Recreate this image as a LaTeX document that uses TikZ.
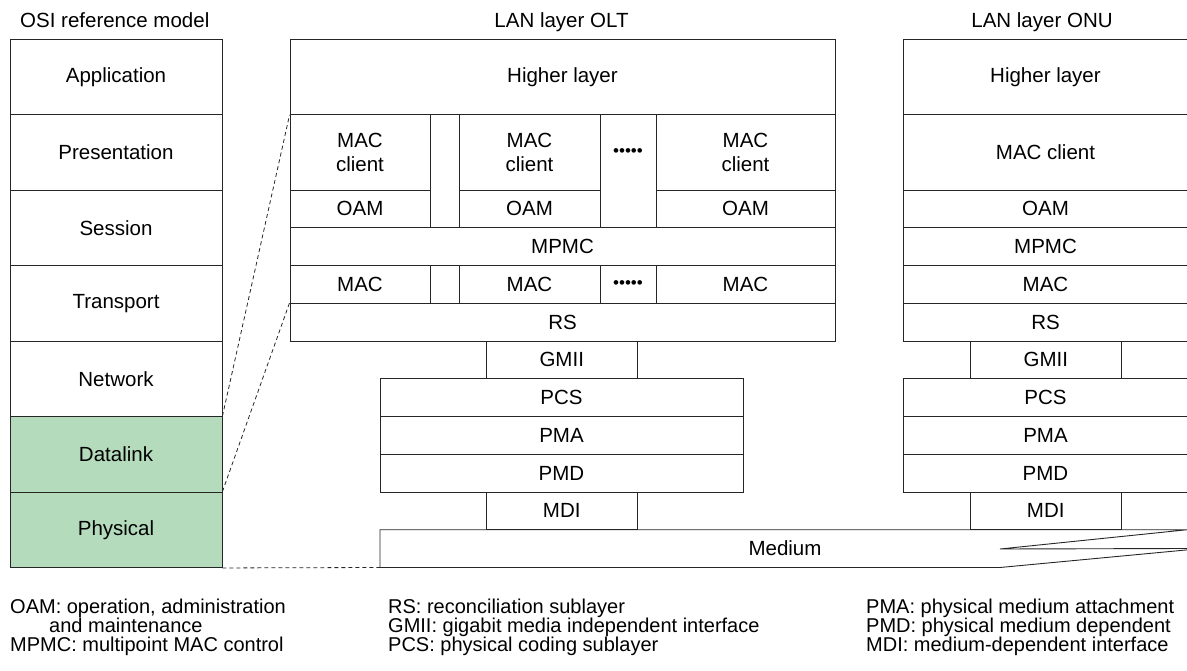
\documentclass[tikz,border=0pt]{standalone}
\usepackage{fontspec}
\setmainfont{Liberation Sans}
\definecolor{linkgreen}{RGB}{180,220,188}
\begin{document}
\begin{tikzpicture}[x=1pt, y=-1pt,
        layer/.style={draw=black!85, line width=0.9pt, rectangle, inner sep=0pt, minimum height=37.75pt, font=\fontsize{20.5}{24}\selectfont, align=center},
        tall/.style={layer, minimum height=75.5pt},
        osi/.style={tall, minimum width=212pt},
        txt/.style={inner sep=0pt, font=\fontsize{20.5}{24}\selectfont},
        keytxt/.style={inner sep=0pt, anchor=base west, font=\fontsize{20}{19}\selectfont},
        dots/.style={inner sep=0pt, font=\fontsize{17}{20}\selectfont},
        link/.style={draw=black!85, line width=0.8pt, dash pattern=on 4pt off 3pt}]
        \useasboundingbox (0, 0) rectangle (1187, 671);

        \node[txt, anchor=base west] (osititle) at (20, 28) {OSI reference model};
        \node[txt, anchor=base] (olttitle) at (561.5, 27.5) {LAN layer OLT};
        \node[txt, anchor=base] (onutitle) at (1042, 27.5) {LAN layer ONU};

        \node[osi] (app) at (116, 76.75) {Application};
        \node[osi] (pres) at (116, 152.25) {Presentation};
        \node[osi] (sess) at (116, 227.75) {Session};
        \node[osi] (trans) at (116, 303.25) {Transport};
        \node[osi] (net) at (116, 378.75) {Network};
        \node[osi, fill=linkgreen] (dl) at (116, 454.25) {Datalink};
        \node[osi, fill=linkgreen] (phy) at (116, 529.75) {Physical};

        \node[tall, minimum width=545pt] (olthl) at (562.5, 76.75) {Higher layer};
        \node[tall, minimum width=140pt] (oltmc1) at (360, 152.25) {MAC\\client};
        \node[tall, minimum width=141pt] (oltmc2) at (529.5, 152.25) {MAC\\client};
        \node[tall, minimum width=179pt] (oltmc3) at (745.5, 152.25) {MAC\\client};
        \node[layer, minimum width=140pt] (oltoam1) at (360, 208.875) {OAM};
        \node[layer, minimum width=141pt] (oltoam2) at (529.5, 208.875) {OAM};
        \node[layer, minimum width=179pt] (oltoam3) at (745.5, 208.875) {OAM};
        \node[layer, minimum width=545pt] (oltmpmc) at (562.5, 246.625) {MPMC};
        \node[layer, minimum width=140pt] (oltmac1) at (360, 284.375) {MAC};
        \node[layer, minimum width=141pt] (oltmac2) at (529.5, 284.375) {MAC};
        \node[layer, minimum width=179pt] (oltmac3) at (745.5, 284.375) {MAC};
        \node[layer, minimum width=545pt] (oltrs) at (562.5, 322.125) {RS};
        \node[dots] (oltdots1) at (628, 152.25) {•••••};
        \node[dots] (oltdots2) at (628, 284.375) {•••••};

        \node[layer, minimum width=151.5pt] (oltgmii) at (561.75, 359.875) {GMII};
        \node[layer, minimum width=363pt] (oltpcs) at (561.5, 397.625) {PCS};
        \node[layer, minimum width=363pt] (oltpma) at (561.5, 435.375) {PMA};
        \node[layer, minimum width=363pt] (oltpmd) at (561.5, 473.125) {PMD};
        \node[layer, minimum width=151.5pt] (oltmdi) at (561.75, 510.875) {MDI};

        \node[tall, minimum width=285pt] (onuhl) at (1045.5, 76.75) {Higher layer};
        \node[tall, minimum width=285pt] (onumc) at (1045.5, 152.25) {MAC client};
        \node[layer, minimum width=285pt] (onuoam) at (1045.5, 208.875) {OAM};
        \node[layer, minimum width=285pt] (onumpmc) at (1045.5, 246.625) {MPMC};
        \node[layer, minimum width=285pt] (onumac) at (1045.5, 284.375) {MAC};
        \node[layer, minimum width=285pt] (onurs) at (1045.5, 322.125) {RS};
        \node[layer, minimum width=151.5pt] (onugmii) at (1045.75, 359.875) {GMII};
        \node[layer, minimum width=285pt] (onupcs) at (1045.5, 397.625) {PCS};
        \node[layer, minimum width=285pt] (onupma) at (1045.5, 435.375) {PMA};
        \node[layer, minimum width=285pt] (onupmd) at (1045.5, 473.125) {PMD};
        \node[layer, minimum width=151.5pt] (onumdi) at (1045.75, 510.875) {MDI};

        \coordinate (medsw) at (380, 567.5);
        \draw[draw=black!85, line width=0.9pt] (1188, 549.8) -- (1000, 567.5) -- (medsw) -- (380, 529.75) -- (1187, 529.75) -- (1000, 549) -- (1188, 548.5);
        \node[txt] (med) at (785, 548.6) {Medium};

        \draw[link] (dl.north east) -- (olthl.south west);
        \draw[link] (phy.north east) -- (oltrs.north west);
        \draw[link] (phy.south east) -- (medsw);

        \node[keytxt] (keyoam) at (10, 613) {OAM: operation, administration};
        \node[keytxt] (keyoam2) at (49, 632) {and maintenance};
        \node[keytxt] (keympmc) at (10, 651) {MPMC: multipoint MAC control};
        \node[keytxt] (keyrs) at (388, 613) {RS: reconciliation sublayer};
        \node[keytxt] (keygmii) at (388, 632) {GMII: gigabit media independent interface};
        \node[keytxt] (keypcs) at (388, 651) {PCS: physical coding sublayer};
        \node[keytxt] (keypma) at (866, 613) {PMA: physical medium attachment};
        \node[keytxt] (keypmd) at (866, 632) {PMD: physical medium dependent};
        \node[keytxt] (keymdi) at (866, 651) {MDI: medium-dependent interface};

    \end{tikzpicture}
\end{document}
